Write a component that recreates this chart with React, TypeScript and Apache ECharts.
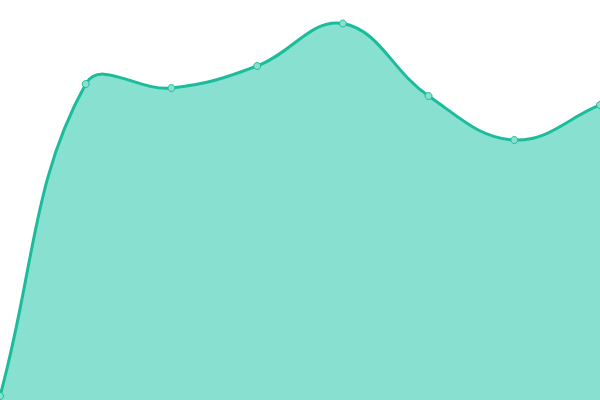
import React, { useEffect, useRef } from "react";
import * as echarts from "echarts";

const categories = ["1", "2", "3", "4", "5", "6", "7", "8"];
const values = [4, 316, 312, 334, 376.5, 304, 260, 295];
const TENSION = 0.4;
const LINE = "#1abc9c";

type P = { x: number; y: number };

function buildPaths(pts: P[], bottom: number) {
  const n = pts.length;
  const cps: { prev: P; next: P }[] = [];
  for (let i = 0; i < n; i++) {
    const cur = pts[i];
    const prev = pts[Math.max(0, i - 1)];
    const next = pts[Math.min(n - 1, i + 1)];
    const d01 = Math.hypot(cur.x - prev.x, cur.y - prev.y);
    const d12 = Math.hypot(next.x - cur.x, next.y - cur.y);
    let s01 = d01 / (d01 + d12);
    let s12 = d12 / (d01 + d12);
    if (isNaN(s01)) s01 = 0;
    if (isNaN(s12)) s12 = 0;
    const fa = TENSION * s01;
    const fb = TENSION * s12;
    cps.push({
      prev: { x: cur.x - fa * (next.x - prev.x), y: cur.y - fa * (next.y - prev.y) },
      next: { x: cur.x + fb * (next.x - prev.x), y: cur.y + fb * (next.y - prev.y) },
    });
  }
  let d = `M${pts[0].x},${pts[0].y}`;
  for (let i = 1; i < n; i++) {
    const a = cps[i - 1].next;
    const b = cps[i].prev;
    d += ` C${a.x},${a.y} ${b.x},${b.y} ${pts[i].x},${pts[i].y}`;
  }
  const area = `${d} L${pts[n - 1].x},${bottom} L${pts[0].x},${bottom} Z`;
  return { line: d, area };
}

export default function App() {
  const ref = useRef<HTMLDivElement>(null);
  useEffect(() => {
    if (!ref.current) return;
    const chart = echarts.init(ref.current, undefined, { renderer: "svg" });
    chart.setOption({
      animation: false,
      grid: { left: 0, right: 0, top: 0, bottom: 0 },
      xAxis: {
        type: "category",
        data: categories,
        boundaryGap: false,
        show: false,
      },
      yAxis: { type: "value", min: 0, max: 400, show: false },
      series: [
        {
          type: "custom",
          silent: true,
          z: 1,
          data: values.map((v, i) => [i, v]),
          encode: { x: 0, y: 1 },
          renderItem: (params: any, api: any) => {
            if (params.dataIndex !== 0) return null;
            const pts: P[] = values.map((v, i) => {
              const c = api.coord([i, v]);
              return { x: c[0], y: c[1] };
            });
            const bottom = api.coord([0, 0])[1];
            const { line, area } = buildPaths(pts, bottom);
            return {
              type: "group",
              children: [
                {
                  type: "path",
                  shape: { pathData: area },
                  style: { fill: "#88e0d0", stroke: "none" },
                },
                {
                  type: "path",
                  shape: { pathData: line },
                  style: { fill: "none", stroke: LINE, lineWidth: 3 },
                },
              ],
            };
          },
        },
        {
          type: "line",
          z: 3,
          data: values,
          symbol: "circle",
          symbolSize: 7,
          showSymbol: true,
          lineStyle: { opacity: 0, width: 0 },
          itemStyle: { color: "#8ae0ce", borderColor: LINE, borderWidth: 1 },
        },
      ],
    });
    return () => chart.dispose();
  }, []);
  return (
    <div
      ref={ref}
      style={{ position: "fixed", left: 0, top: 0, width: 600, height: 400 }}
    />
  );
}
